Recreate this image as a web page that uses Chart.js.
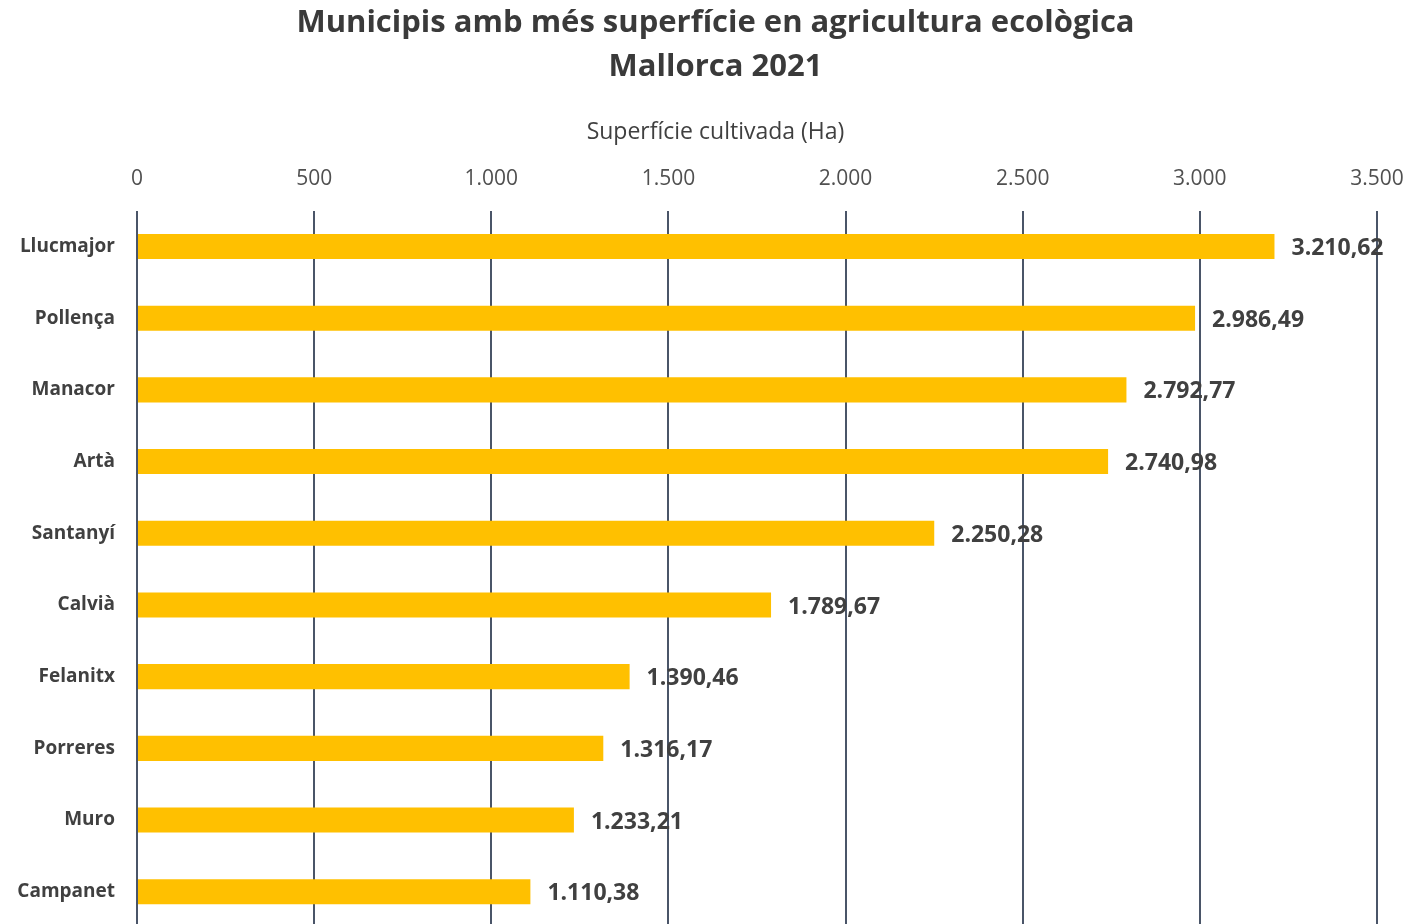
<!DOCTYPE html>
<html>
<head>
<meta charset="utf-8">
<script src="https://cdn.jsdelivr.net/npm/chart.js@4/dist/chart.umd.min.js"></script>
<style>
  html, body { margin: 0; padding: 0; background: #ffffff; overflow: hidden; }
  #wrap { width: 1411px; height: 961px; position: relative; }
</style>
</head>
<body>
<div id="wrap"><canvas id="c" width="1411" height="961"></canvas></div>
<script>
const categories = ["Llucmajor", "Pollença", "Manacor", "Artà", "Santanyí", "Calvià", "Felanitx", "Porreres", "Muro", "Campanet"];
const surfaceHa = [3210.62, 2986.49, 2792.77, 2740.98, 2250.28, 1789.67, 1390.46, 1316.17, 1233.21, 1110.38];
const titleLines = ["Municipis amb més superfície en agricultura ecològica", "Mallorca 2021"];
const axisTitle = "Superfície cultivada (Ha)";
const xMin = 0, xMax = 3500, xStep = 500;

function groupThousands(intStr) {
  return intStr.replace(/\B(?=(\d{3})+(?!\d))/g, ".");
}
function fmtDecimal(v) {
  const s = v.toFixed(2).split(".");
  return groupThousands(s[0]) + "," + s[1];
}
function fmtTick(v) {
  return groupThousands(String(Math.round(v)));
}

const FONT = "'Open Sans', sans-serif";

const valueLabels = {
  id: "valueLabels",
  afterDatasetsDraw(chart) {
    const ctx = chart.ctx;
    const meta = chart.getDatasetMeta(0);
    ctx.save();
    ctx.font = "bold 23px " + FONT;
    ctx.fillStyle = "#404040";
    ctx.textAlign = "left";
    ctx.textBaseline = "middle";
    meta.data.forEach((bar, i) => {
      ctx.fillText(fmtDecimal(surfaceHa[i]), bar.x + 17, bar.y + 2);
    });
    ctx.restore();
  }
};

// shift the (sub)title blocks so they are centred slightly right of the canvas centre
const shiftTitles = {
  id: "shiftTitles",
  afterLayout(chart) {
    chart.boxes.forEach((b) => {
      if (!b.axis && b.position === "top") {
        b.left = 20;
        b.width = b.right - b.left;
      }
    });
  }
};

new Chart(document.getElementById("c"), {
  type: "bar",
  data: {
    labels: categories,
    datasets: [{
      data: surfaceHa,
      backgroundColor: "#FFC000",
      borderWidth: 0,
      barPercentage: 0.7,
      categoryPercentage: 0.5
    }]
  },
  options: {
    indexAxis: "y",
    responsive: false,
    animation: false,
    devicePixelRatio: 1,
    layout: { padding: { left: 0, right: 0, top: 0, bottom: 0 } },
    plugins: {
      legend: { display: false },
      tooltip: { enabled: false },
      title: {
        display: true,
        text: titleLines,
        color: "#3a3a3a",
        font: { family: FONT, size: 31, weight: "bold", lineHeight: 1.42 },
        padding: { top: 1, bottom: 0 }
      },
      subtitle: {
        display: true,
        text: axisTitle,
        color: "#404040",
        font: { family: FONT, size: 23, weight: "normal", lineHeight: 1.2 },
        padding: { top: 30, bottom: 0 }
      }
    },
    scales: {
      x: {
        position: "top",
        min: xMin,
        max: xMax,
        ticks: {
          stepSize: xStep,
          color: "#505050",
          font: { family: FONT, size: 21 },
          padding: 19,
          callback: (v) => fmtTick(v)
        },
        grid: {
          color: "#4A5568",
          lineWidth: 2,
          drawTicks: false
        },
        border: { display: false },
        afterFit(scale) {
          scale.height = 64;
          scale.paddingLeft = 0;
          scale.paddingRight = 34;
        }
      },
      y: {
        ticks: {
          color: "#404040",
          font: { family: FONT, size: 19, weight: "bold" },
          padding: 22
        },
        grid: { display: false, drawTicks: false },
        border: { display: false },
        afterFit(scale) { scale.width = 137; }
      }
    }
  },
  plugins: [valueLabels, shiftTitles]
});
</script>
</body>
</html>
